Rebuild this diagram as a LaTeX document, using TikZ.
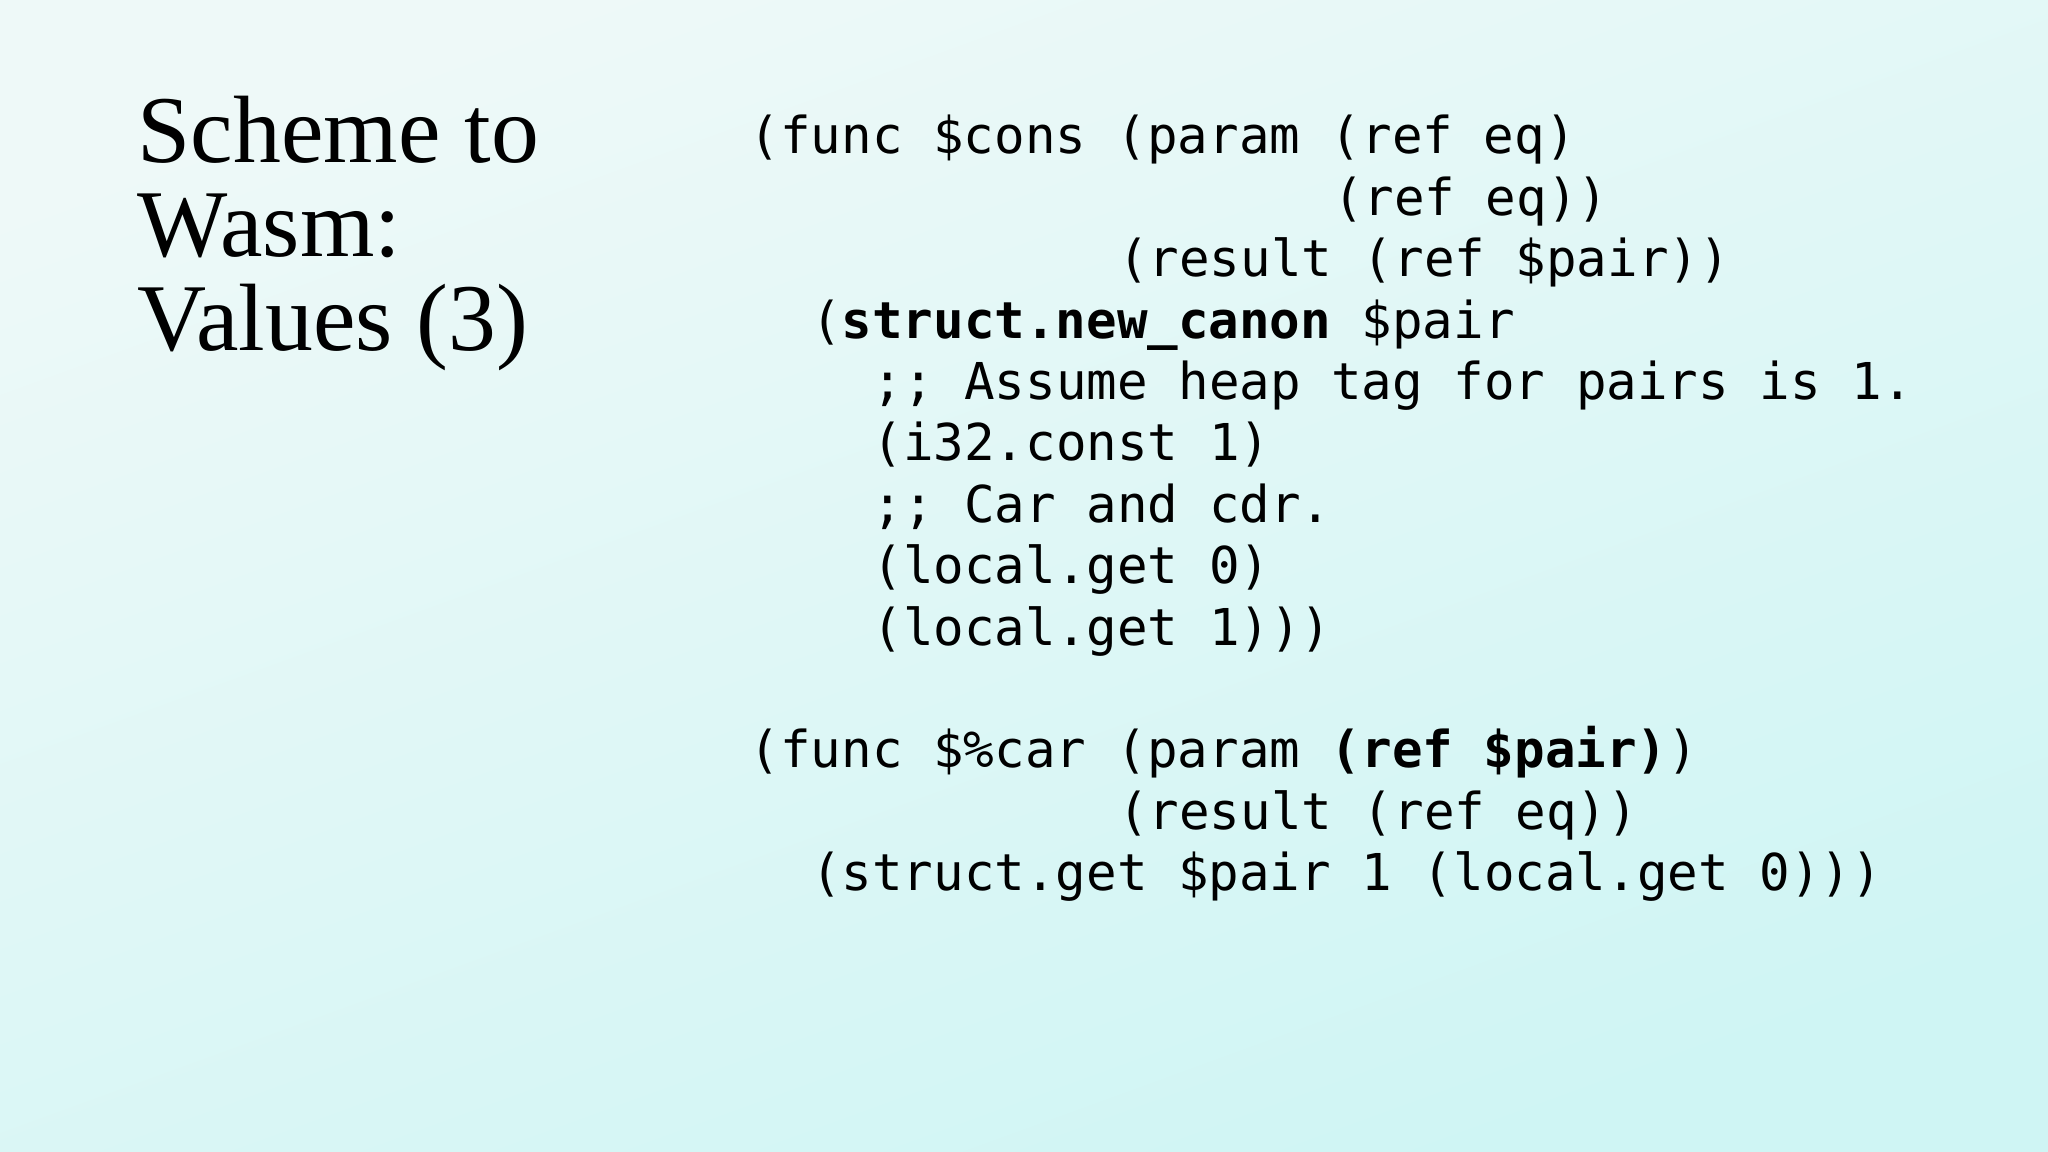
\documentclass[tikz,border=0pt]{standalone}
\usepackage{fontspec}
\setmainfont{Liberation Serif}
\setmonofont{DejaVu Sans Mono}
\definecolor{bgtop}{HTML}{EEF9F8}
\definecolor{bgbot}{HTML}{CFF5F4}
\begin{document}
\begin{tikzpicture}[x=0.01cm,y=-0.01cm,
  code/.style={anchor=base west,inner sep=0,font=\ttfamily\fontsize{14.45pt}{17pt}\selectfont},
  ttl/.style={anchor=base west,inner sep=0,font=\fontsize{27.2pt}{32pt}\selectfont}]
\shade[top color=bgtop,bottom color=bgbot,shading angle=20] (0,0) rectangle (2048,1152);
\useasboundingbox (0,0) rectangle (2048,1152);
\node[ttl] (t1) at (137,163) {Scheme to};
\node[ttl] (t2) at (137,257) {Wasm:};
\node[ttl] (t3) at (137,351) {Values (3)};
\def\cx{749}\def\cw{30.7}\def\lyy{61.4}
\foreach \n/\i/\l/\t in {
 a/0/0/{(func \$cons (param (ref eq)},
 b/19/1/{(ref eq))},
 c/12/2/{(result (ref \$pair))},
 d/2/3/{(\textbf{struct.new\_canon} \$pair},
 e/4/4/{;; Assume heap tag for pairs is 1.},
 f/4/5/{(i32.const 1)},
 g/4/6/{;; Car and cdr.},
 h/4/7/{(local.get 0)},
 i/4/8/{(local.get 1)))},
 j/0/10/{(func \$\%car (param \textbf{(ref \$pair)})},
 k/12/11/{(result (ref eq))},
 l/2/12/{(struct.get \$pair 1 (local.get 0)))}}
 \node[code] (c\n) at ({\cx+\i*\cw},{154+\l*\lyy}) {\t};
\end{tikzpicture}
\end{document}
